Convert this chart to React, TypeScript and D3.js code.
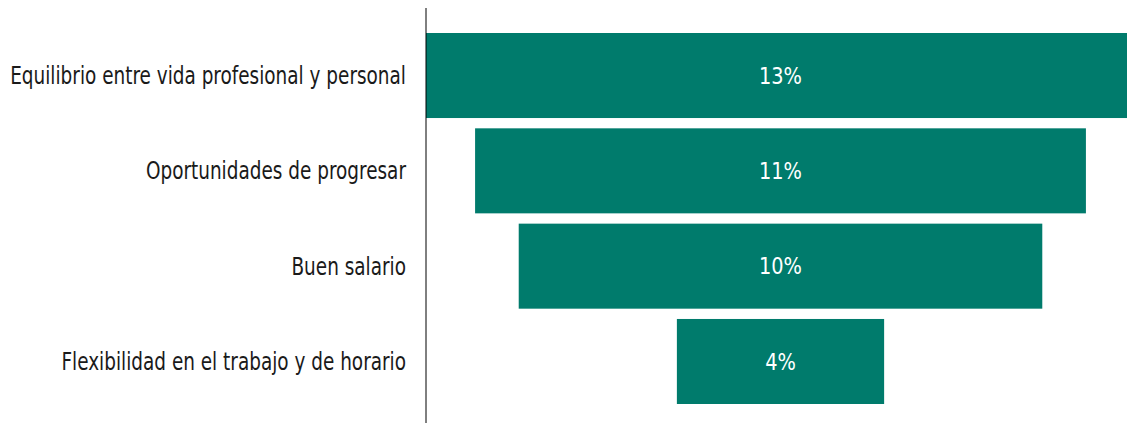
import React, { useEffect, useRef } from 'react';
import * as d3 from 'd3';

const categories = [
  'Equilibrio entre vida profesional y personal',
  'Oportunidades de progresar',
  'Buen salario',
  'Flexibilidad en el trabajo y de horario',
];
const values = [13.0, 11.2, 9.6, 3.8];

const width = 1127;
const height = 423;
const barColor = '#007b6c';
const font = "'DejaVu Sans Condensed', 'Liberation Sans Narrow', 'DejaVu Sans', sans-serif";

const App: React.FC = () => {
  const svgRef = useRef<SVGSVGElement>(null);

  useEffect(() => {
    if (!svgRef.current) return;
    const svg = d3.select(svgRef.current);
    svg.selectAll('*').remove();

    const axisX = 426;
    const centerX = 780.5;

    const y = d3.scaleBand<string>()
      .domain(categories)
      .range([33, 404])
      .paddingInner(0.108)
      .paddingOuter(0);

    // half-width of each funnel bar, measured from the centre
    const half = d3.scaleLinear()
      .domain([0, d3.max(values) || 0])
      .range([0, centerX - axisX]);

    const bars = svg.append('g');
    const labels = svg.append('g');
    const valueTexts: SVGTextElement[] = [];
    const catTexts: SVGTextElement[] = [];

    categories.forEach((c, i) => {
      const h = half(values[i]);
      const top = y(c) || 0;
      const mid = top + y.bandwidth() / 2;
      bars.append('rect')
        .attr('x', centerX - h)
        .attr('y', top)
        .attr('width', h * 2)
        .attr('height', y.bandwidth())
        .attr('fill', barColor);

      const vt = bars.append('g')
        .attr('transform', `translate(${centerX},${mid})`)
        .append('text')
        .attr('dy', '0.36em')
        .attr('text-anchor', 'middle')
        .attr('fill', '#ffffff')
        .style('font-family', font)
        .style('font-size', '23px')
        .text(`${Math.round(values[i])}%`);
      valueTexts.push(vt.node()!);

      const ct = labels.append('g')
        .attr('transform', `translate(406,${mid})`)
        .append('text')
        .attr('dy', '0.36em')
        .attr('text-anchor', 'end')
        .attr('fill', '#1a1a1a')
        .style('font-family', font)
        .style('font-size', '24px')
        .text(c);
      catTexts.push(ct.node()!);
    });

    // squeeze the text horizontally to mimic the condensed face
    const kCat = 396 / (catTexts[0].getComputedTextLength() || 396);
    catTexts.forEach(t => d3.select(t).attr('transform', `scale(${kCat},1)`));
    const kVal = 43 / (valueTexts[0].getComputedTextLength() || 43);
    valueTexts.forEach(t => d3.select(t).attr('transform', `scale(${kVal},1)`));

    // vertical axis line
    svg.append('line')
      .attr('x1', axisX)
      .attr('x2', axisX)
      .attr('y1', 8)
      .attr('y2', height)
      .attr('stroke', '#000')
      .attr('stroke-width', 1);
  }, []);

  return (
    <svg
      ref={svgRef}
      width={width}
      height={height}
      viewBox={`0 0 ${width} ${height}`}
      style={{ position: 'absolute', left: 0, top: 0, background: '#fff' }}
    />
  );
};

export default App;
